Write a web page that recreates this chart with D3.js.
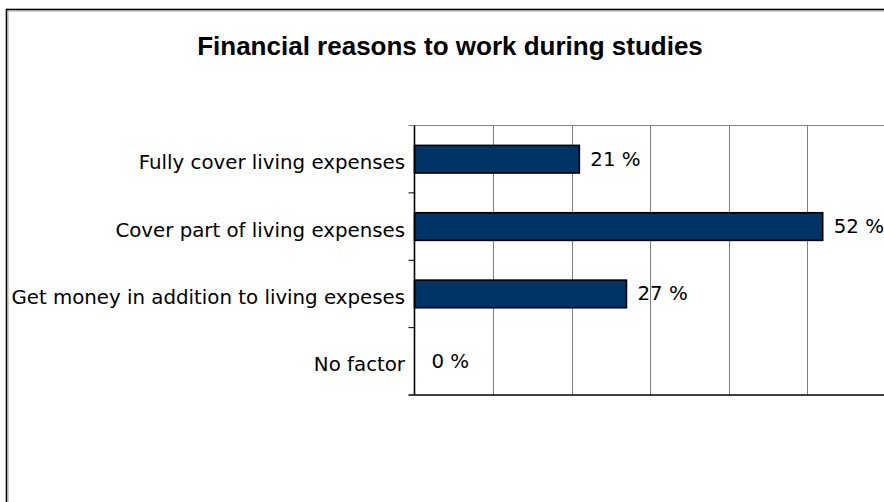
<!DOCTYPE html>
<html>
<head>
<meta charset="utf-8">
<script src="https://cdn.jsdelivr.net/npm/d3@7"></script>
<style>
  html, body { margin: 0; padding: 0; background: #ffffff; }
  svg { display: block; }
</style>
</head>
<body>
<svg id="chart" width="884" height="502"></svg>
<script>
// Survey answers: why students work while studying (share of respondents, %)
const categories = [
  "Fully cover living expenses",
  "Cover part of living expenses",
  "Get money in addition to living expeses",
  "No factor"
];
const shares = [21, 52, 27, 0];
const gridValues = [10, 20, 30, 40, 50];
const chartTitle = "Financial reasons to work during studies";

const svg = d3.select("#chart");
const W = 884, H = 502;

// Chart frame
svg.append("rect")
  .attr("x", 6.5).attr("y", 9.5)
  .attr("width", W + 20).attr("height", H + 20)
  .attr("fill", "#ffffff")
  .attr("stroke", "#000000").attr("stroke-width", 1.6);
svg.append("path")
  .attr("d", `M8,${H + 10}V11H${W + 10}`)
  .attr("fill", "none")
  .attr("stroke", "#a0a0a0").attr("stroke-width", 1);

// Title
svg.append("text")
  .attr("x", 450).attr("y", 54.5)
  .attr("text-anchor", "middle")
  .attr("font-family", "'Liberation Sans', Arial, sans-serif")
  .attr("font-weight", "bold")
  .attr("font-size", 26)
  .attr("fill", "#000000")
  .text(chartTitle);

// Plot area
const plot = { left: 414.5, top: 125.5, bottom: 395 };
const x = d3.scaleLinear().domain([0, 60]).range([plot.left, plot.left + 471]);
const y = d3.scaleBand().domain(categories).range([plot.top, plot.bottom]).padding(0);
const barFrac = 0.41;
const barH = y.step() * barFrac;

// Vertical gridlines
svg.append("g")
  .selectAll("line")
  .data(gridValues)
  .join("line")
  .attr("x1", d => Math.round(x(d)) + 0.5)
  .attr("x2", d => Math.round(x(d)) + 0.5)
  .attr("y1", plot.top).attr("y2", plot.bottom)
  .attr("stroke", "#808080").attr("stroke-width", 1);

// Top edge of the plot area
svg.append("line")
  .attr("x1", plot.left - 6).attr("x2", W)
  .attr("y1", plot.top).attr("y2", plot.top)
  .attr("stroke", "#808080").attr("stroke-width", 1.2);

// Bottom (value) axis line, no labels
svg.append("line")
  .attr("x1", plot.left - 6).attr("x2", W)
  .attr("y1", plot.bottom).attr("y2", plot.bottom)
  .attr("stroke", "#000000").attr("stroke-width", 1.4);

// Bars
svg.append("g")
  .selectAll("rect")
  .data(categories.map((c, i) => ({ c, v: shares[i] })))
  .join("rect")
  .filter(d => d.v > 0)
  .attr("x", x(0))
  .attr("y", d => y(d.c) + (y.step() - barH) / 2)
  .attr("width", d => x(d.v) - x(0))
  .attr("height", barH)
  .attr("fill", "#003366")
  .attr("stroke", "#000000").attr("stroke-width", 1.6);

// Category axis with ticks between categories
const yAxis = svg.append("g");
yAxis.append("line")
  .attr("x1", plot.left).attr("x2", plot.left)
  .attr("y1", plot.top).attr("y2", plot.bottom)
  .attr("stroke", "#000000").attr("stroke-width", 1.6);
yAxis.selectAll("line.tick")
  .data(categories.slice(1))
  .join("line")
  .attr("class", "tick")
  .attr("x1", plot.left - 6).attr("x2", plot.left)
  .attr("y1", d => y(d)).attr("y2", d => y(d))
  .attr("stroke", "#000000").attr("stroke-width", 1);

// Category labels
svg.append("g")
  .selectAll("text")
  .data(categories)
  .join("text")
  .attr("x", 405)
  .attr("y", d => y(d) + y.step() / 2 + 10)
  .attr("text-anchor", "end")
  .attr("font-family", "'DejaVu Sans', Verdana, sans-serif")
  .attr("font-size", 19.8)
  .attr("fill", "#000000")
  .text(d => d);

// Value labels placed just past the bar ends
svg.append("g")
  .selectAll("text")
  .data(categories.map((c, i) => ({ c, v: shares[i] })))
  .join("text")
  .attr("x", d => x(d.v) + (d.v > 0 ? 11 : 17))
  .attr("y", d => y(d.c) + y.step() / 2 + 6.5)
  .attr("font-family", "'DejaVu Sans', Verdana, sans-serif")
  .attr("font-size", 19.8)
  .attr("fill", "#000000")
  .text(d => `${d.v} %`);
</script>
</body>
</html>
